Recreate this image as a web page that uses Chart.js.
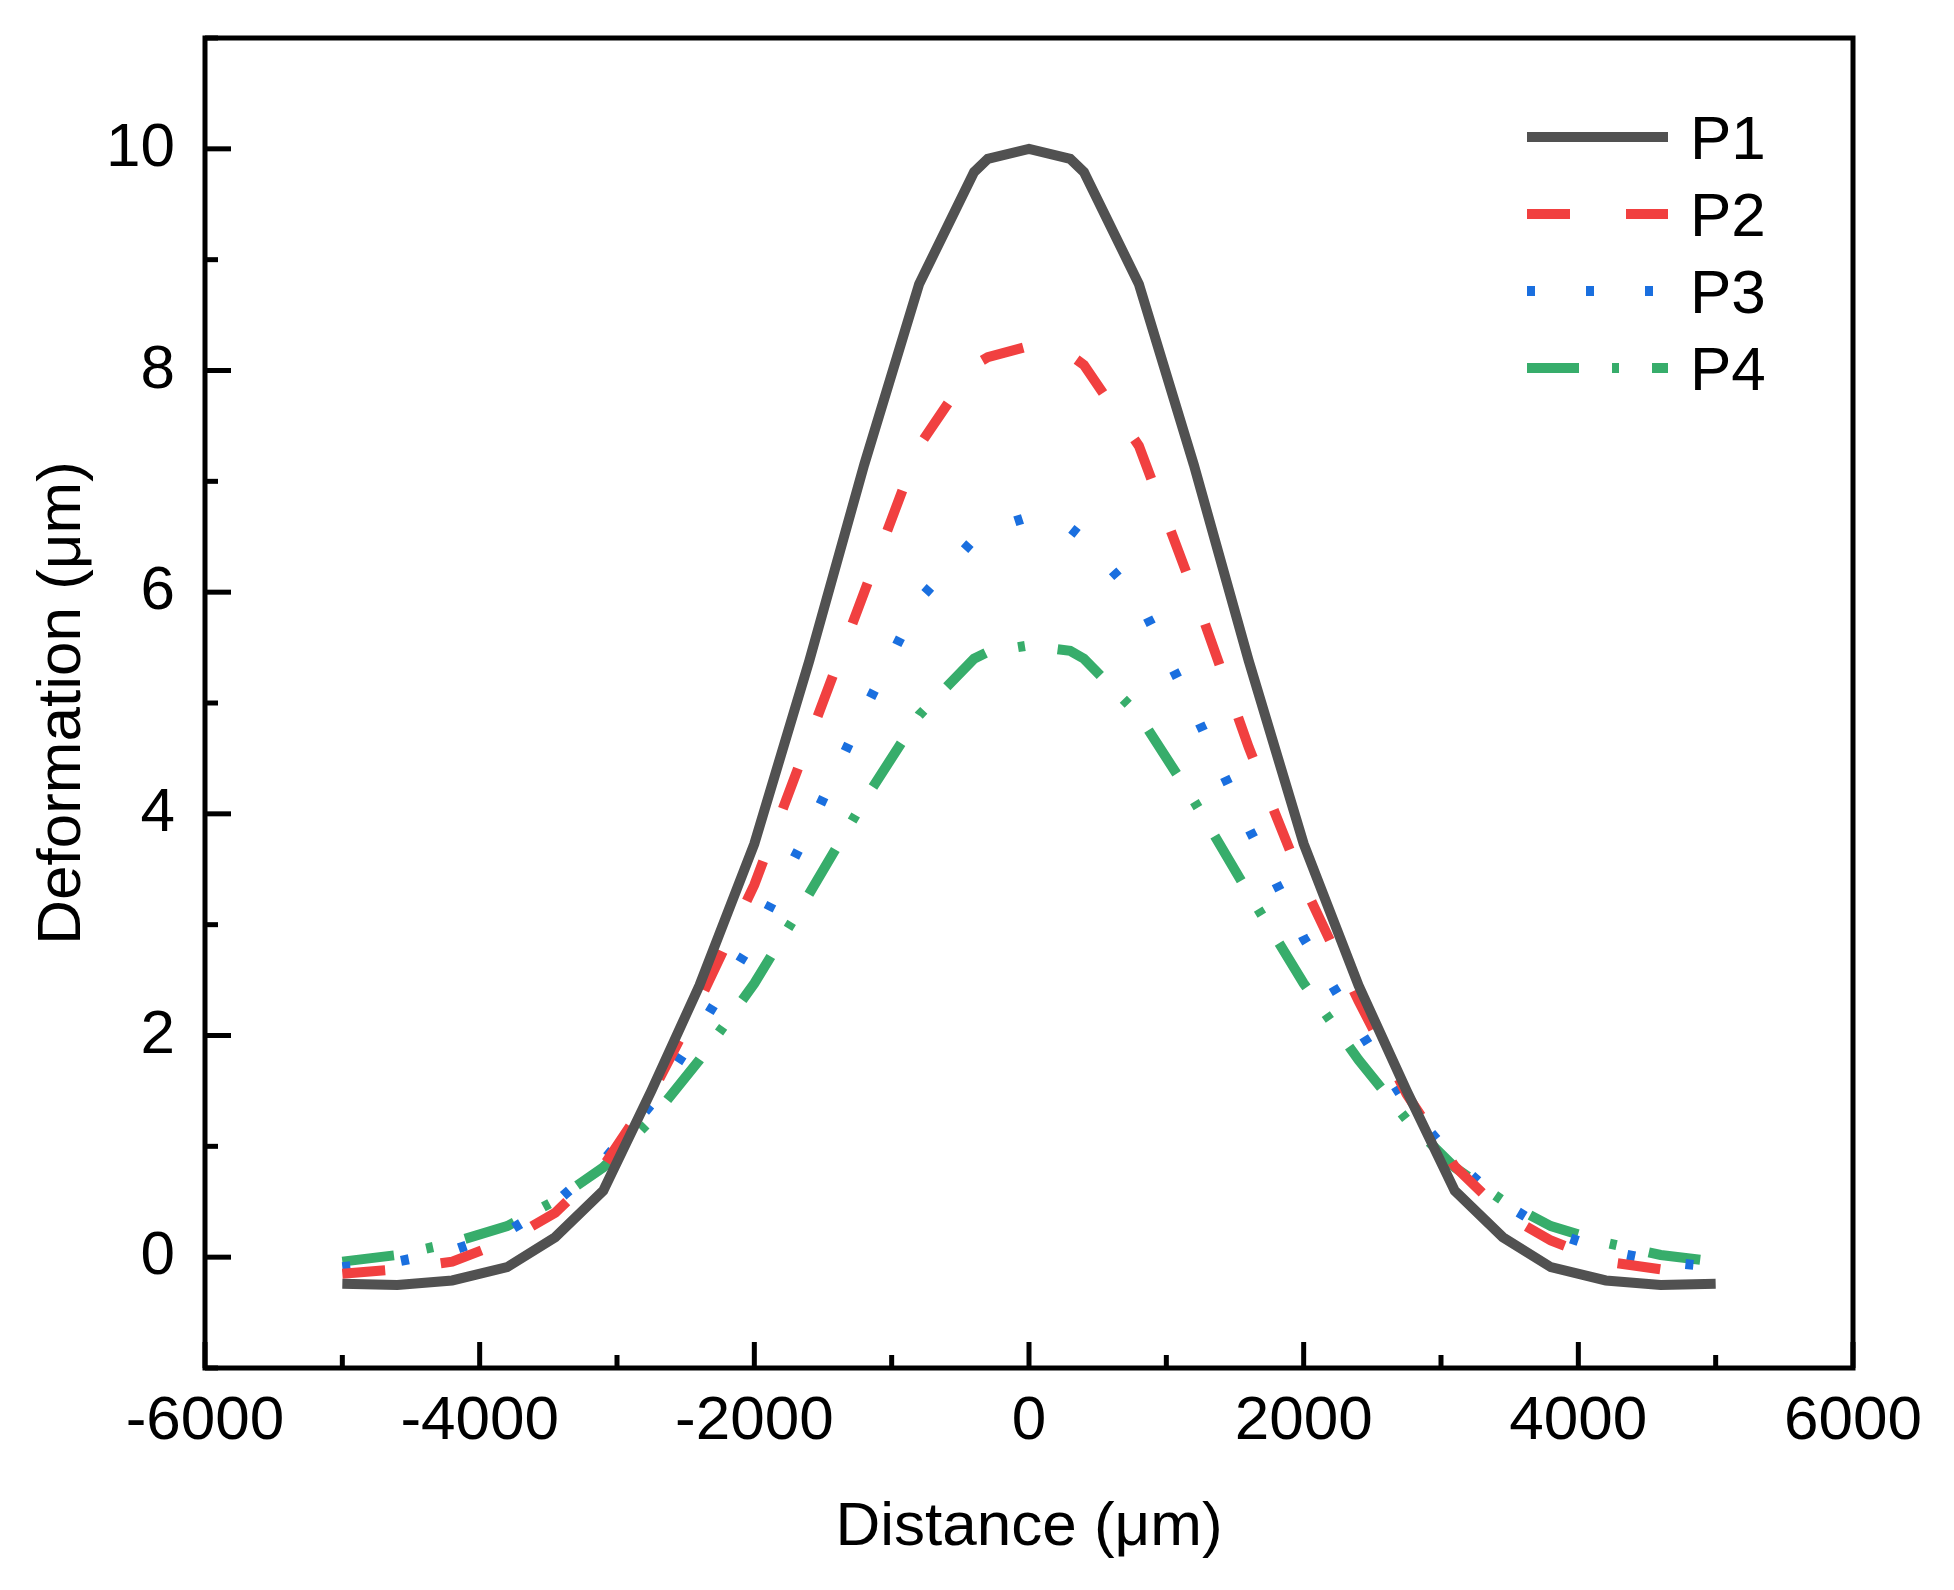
<!DOCTYPE html>
<html>
<head>
<meta charset="utf-8">
<title>Deformation profile</title>
<script src="https://cdn.jsdelivr.net/npm/chart.js@4.4.1/dist/chart.umd.min.js"></script>
<style>
    html, body { margin: 0; padding: 0; background: #fff; }
    #wrap { width: 1954px; height: 1590px; position: relative; }
</style>
</head>
<body>
<div id="wrap"><canvas id="deformation-chart"></canvas></div>
<script>
// Distance along the profile (μm), shared by all series
const distance = [-5000, -4600, -4200, -3800, -3450, -3100, -2750, -2400, -2000, -1600, -1200, -800, -400, -300, 0,
                  300, 400, 800, 1200, 1600, 2000, 2400, 2750, 3100, 3450, 3800, 4200, 4600, 5000];

// Deformation (μm) per position
const p1 = [-0.24, -0.25, -0.21, -0.09, 0.18, 0.60, 1.50, 2.45, 3.73, 5.38, 7.15, 8.78, 9.79, 9.91, 10.00,
            9.91, 9.79, 8.78, 7.15, 5.38, 3.73, 2.45, 1.50, 0.60, 0.18, -0.09, -0.21, -0.25, -0.24];
const p2 = [-0.15, -0.11, -0.04, 0.15, 0.40, 0.82, 1.47, 2.31, 3.36, 4.68, 6.00, 7.32, 8.05, 8.12, 8.22,
            8.14, 8.05, 7.32, 6.00, 4.60, 3.36, 2.31, 1.47, 0.82, 0.40, 0.15, -0.04, -0.11, -0.15];
const p3 = [-0.09, -0.04, 0.06, 0.23, 0.49, 0.87, 1.38, 2.06, 2.88, 3.87, 4.93, 5.93, 6.48, 6.56, 6.68,
            6.58, 6.48, 5.93, 4.93, 3.87, 2.88, 2.06, 1.38, 0.87, 0.49, 0.23, 0.06, -0.04, -0.09];
const p4 = [-0.04, 0.02, 0.13, 0.28, 0.51, 0.81, 1.24, 1.78, 2.47, 3.28, 4.12, 4.89, 5.40, 5.46, 5.52,
            5.47, 5.40, 4.89, 4.12, 3.28, 2.47, 1.78, 1.24, 0.81, 0.51, 0.28, 0.13, 0.02, -0.04];

const seriesNames = ['P1', 'P2', 'P3', 'P4'];
const seriesColors = ['#515151', '#F14040', '#1A6FDF', '#37AD6B'];
const seriesDashes = [[], [43, 56], [8, 51], [52, 33, 7, 33]];

// Labelled ticks (minor ticks fall halfway between)
const xTickLabels = [-6000, -4000, -2000, 0, 2000, 4000, 6000];
const yTickLabels = [0, 2, 4, 6, 8, 10];

const fontFamily = "'Liberation Sans', Arial, sans-serif";

document.addEventListener('DOMContentLoaded', function() {
    drawChart();
});

// Build {x, y} points from the shared distance array
function toPoints(values) {
    return distance.map((x, i) => ({ x: x, y: values[i] }));
}

// Frame round the plot plus inward major/minor ticks
const framePlugin = {
    id: 'frame',
    afterDatasetsDraw(chart) {
        const { ctx, chartArea: a, scales } = chart;
        ctx.save();
        ctx.strokeStyle = '#000';
        ctx.lineWidth = 5;
        ctx.strokeRect(a.left, a.top, a.right - a.left, a.bottom - a.top);

        scales.x.ticks.forEach(t => {
            const px = scales.x.getPixelForValue(t.value);
            const len = xTickLabels.includes(t.value) ? 26 : 13;
            ctx.beginPath();
            ctx.moveTo(px, a.bottom);
            ctx.lineTo(px, a.bottom - len);
            ctx.stroke();
        });
        scales.y.ticks.forEach(t => {
            const py = scales.y.getPixelForValue(t.value);
            const len = yTickLabels.includes(t.value) ? 26 : 13;
            ctx.beginPath();
            ctx.moveTo(a.left, py);
            ctx.lineTo(a.left + len, py);
            ctx.stroke();
        });
        ctx.restore();
    }
};

// Legend inside the top right corner of the plot
const legendPlugin = {
    id: 'insideLegend',
    afterDraw(chart) {
        const { ctx, chartArea: a } = chart;
        const lineStart = a.right - 326;
        const lineEnd = a.right - 185;
        ctx.save();
        chart.data.datasets.forEach((ds, i) => {
            const rowY = a.top + 99 + i * 77;
            ctx.beginPath();
            ctx.lineWidth = ds.borderWidth;
            ctx.strokeStyle = ds.borderColor;
            ctx.setLineDash(ds.borderDash);
            ctx.moveTo(lineStart, rowY);
            ctx.lineTo(lineEnd, rowY);
            ctx.stroke();
            ctx.setLineDash([]);
            ctx.fillStyle = '#000';
            ctx.font = '62px ' + fontFamily;
            ctx.textBaseline = 'alphabetic';
            ctx.textAlign = 'left';
            ctx.fillText(ds.label, lineEnd + 22, rowY + 22);
        });
        ctx.restore();
    }
};

function drawChart() {
    const seriesValues = [p1, p2, p3, p4];
    const ctx = document.getElementById('deformation-chart').getContext('2d');
    new Chart(ctx, {
        type: 'line',
        data: {
            datasets: seriesValues.map((values, i) => ({
                label: seriesNames[i],
                data: toPoints(values),
                borderColor: seriesColors[i],
                borderDash: seriesDashes[i],
                borderWidth: 10,
                pointRadius: 0,
                tension: 0,
                fill: false
            }))
        },
        options: {
            responsive: true,
            maintainAspectRatio: false,
            animation: false,
            devicePixelRatio: 1,
            layout: { padding: { top: 38, right: 101, left: 0, bottom: 0 } },
            plugins: {
                legend: { display: false },
                tooltip: { enabled: false }
            },
            scales: {
                x: {
                    type: 'linear',
                    min: -6000,
                    max: 6000,
                    grid: { display: false, drawTicks: false },
                    border: { display: false },
                    ticks: {
                        stepSize: 1000,
                        autoSkip: false,
                        maxRotation: 0,
                        padding: 17,
                        color: '#000',
                        font: { family: fontFamily, size: 62 },
                        callback: value => xTickLabels.includes(value) ? String(value) : ''
                    },
                    title: {
                        display: true,
                        text: 'Distance (μm)',
                        color: '#000',
                        font: { family: fontFamily, size: 62 },
                        padding: { top: 25, bottom: 25 }
                    },
                    afterFit: scale => {
                        scale.height = 222;
                        scale.paddingLeft = 0;
                        scale.paddingRight = 0;
                    }
                },
                y: {
                    min: -1,
                    max: 11,
                    grid: { display: false, drawTicks: false },
                    border: { display: false },
                    ticks: {
                        stepSize: 1,
                        autoSkip: false,
                        padding: 30,
                        color: '#000',
                        font: { family: fontFamily, size: 62 },
                        callback: value => yTickLabels.includes(value) ? String(value) : ''
                    },
                    title: {
                        display: true,
                        text: 'Deformation (μm)',
                        color: '#000',
                        font: { family: fontFamily, size: 62 },
                        padding: { top: 26, bottom: 26 }
                    },
                    afterFit: scale => {
                        scale.width = 205;
                        scale.paddingTop = 0;
                        scale.paddingBottom = 0;
                    }
                }
            }
        },
        plugins: [framePlugin, legendPlugin]
    });
}
</script>
</body>
</html>
